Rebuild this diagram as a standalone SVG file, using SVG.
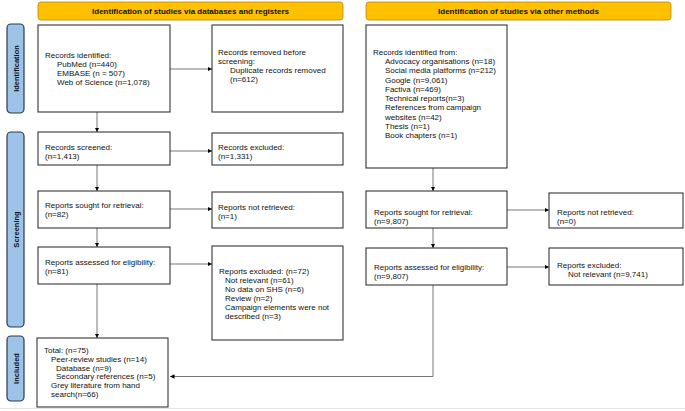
<svg xmlns="http://www.w3.org/2000/svg" width="685" height="411" viewBox="0 0 685 411">
<defs>
<marker id="ah" viewBox="0 0 10 10" refX="10" refY="5" markerWidth="4.5" markerHeight="4.5" orient="auto" markerUnits="userSpaceOnUse">
<path d="M0,0 L10,5 L0,10 z" fill="#000"/>
</marker>
<style>
.box{fill:#fff;stroke:#222;stroke-width:1}
.hdr{fill:#FFC000;stroke:#B8860B;stroke-width:0.8}
.side{fill:#9DC3E6;stroke:#2B3A4A;stroke-width:1.2}
.t{font-family:"Liberation Sans",Arial,sans-serif;font-size:8px;fill:#111}
.h{font-family:"Liberation Sans",Arial,sans-serif;font-size:8px;font-weight:bold;fill:#111;text-anchor:middle}
.s{font-family:"Liberation Sans",Arial,sans-serif;font-size:7.5px;font-weight:bold;fill:#111;text-anchor:middle}
.c{fill:none;stroke:#777;stroke-width:1}
</style>
</defs>
<rect width="685" height="411" fill="#fff"/>
<line x1="0" y1="408.5" x2="685" y2="408.5" stroke="#e6e6e6" stroke-width="1"/>

<g id="hdr-left"><rect class="hdr" x="38" y="2" width="305" height="18" rx="3"/><text class="h" x="190.5" y="14">Identification of studies via databases and registers</text></g>
<g id="hdr-right"><rect class="hdr" x="366" y="2" width="305" height="18" rx="3"/><text class="h" x="518.5" y="14">Identification of studies via other methods</text></g>

<g id="side-identification"><rect class="side" x="7" y="24" width="17" height="89" rx="4"/><text class="s" transform="translate(18.5,68.5) rotate(-90)">Identification</text></g>
<g id="side-screening"><rect class="side" x="7" y="132" width="17" height="195" rx="4"/><text class="s" transform="translate(18.5,229.5) rotate(-90)">Screening</text></g>
<g id="side-included"><rect class="side" x="7" y="336" width="17" height="65" rx="4"/><text class="s" transform="translate(18.5,368.5) rotate(-90)">Included</text></g>

<g id="connectors">
<line class="c" x1="170" y1="69" x2="212" y2="69" marker-end="url(#ah)"/>
<line class="c" x1="97" y1="112" x2="97" y2="132" marker-end="url(#ah)"/>
<line class="c" x1="170" y1="151" x2="212" y2="151" marker-end="url(#ah)"/>
<line class="c" x1="97" y1="165" x2="97" y2="191" marker-end="url(#ah)"/>
<line class="c" x1="170" y1="209" x2="212" y2="209" marker-end="url(#ah)"/>
<line class="c" x1="97" y1="228" x2="97" y2="247" marker-end="url(#ah)"/>
<line class="c" x1="170" y1="264" x2="212" y2="264" marker-end="url(#ah)"/>
<line class="c" x1="97" y1="284" x2="97" y2="338" marker-end="url(#ah)"/>
<line class="c" x1="433" y1="168" x2="433" y2="191" marker-end="url(#ah)"/>
<line class="c" x1="507" y1="210" x2="549" y2="210" marker-end="url(#ah)"/>
<line class="c" x1="433" y1="228" x2="433" y2="248" marker-end="url(#ah)"/>
<line class="c" x1="507" y1="267" x2="549" y2="267" marker-end="url(#ah)"/>
<polyline class="c" points="433,285 433,376.5 170,376.5" stroke="#999" stroke-width="1.3" marker-end="url(#ah)"/>
</g>

<g id="records-identified"><rect class="box" x="38" y="25" width="132" height="87"/>
<text class="t" x="45" y="58">Records identified:</text>
<text class="t" x="57" y="67">PubMed (n=440)</text>
<text class="t" x="57" y="76">EMBASE (n = 507)</text>
<text class="t" x="57" y="85">Web of Science (n=1,078)</text></g>

<g id="records-removed"><rect class="box" x="212" y="25" width="131" height="87"/>
<text class="t" x="218" y="55">Records removed before</text>
<text class="t" x="218" y="64">screening:</text>
<text class="t" x="230" y="73">Duplicate records removed</text>
<text class="t" x="230" y="82">(n=612)</text></g>

<g id="records-screened"><rect class="box" x="38" y="132" width="132" height="33"/>
<text class="t" x="45" y="150">Records screened:</text>
<text class="t" x="45" y="159">(n=1,413)</text></g>

<g id="records-excluded"><rect class="box" x="212" y="133" width="131" height="32"/>
<text class="t" x="218" y="150">Records excluded:</text>
<text class="t" x="218" y="159">(n=1,331)</text></g>

<g id="reports-sought"><rect class="box" x="38" y="191" width="132" height="37"/>
<text class="t" x="45" y="208">Reports sought for retrieval:</text>
<text class="t" x="45" y="217">(n=82)</text></g>

<g id="reports-not-retrieved"><rect class="box" x="212" y="192" width="131" height="36"/>
<text class="t" x="218" y="210">Reports not retrieved:</text>
<text class="t" x="218" y="219">(n=1)</text></g>

<g id="reports-assessed"><rect class="box" x="38" y="247" width="132" height="37"/>
<text class="t" x="45" y="265">Reports assessed for eligibility:</text>
<text class="t" x="45" y="274">(n=81)</text></g>

<g id="reports-excluded"><rect class="box" x="212" y="246" width="131" height="94"/>
<text class="t" x="219" y="274">Reports excluded: (n=72)</text>
<text class="t" x="225" y="283">Not relevant (n=61)</text>
<text class="t" x="225" y="292">No data on SHS (n=6)</text>
<text class="t" x="225" y="301">Review (n=2)</text>
<text class="t" x="225" y="310">Campaign elements were not</text>
<text class="t" x="225" y="319">described (n=3)</text></g>

<g id="included-total"><rect class="box" x="37" y="338" width="131" height="69"/>
<text class="t" x="44" y="353">Total: (n=75)</text>
<text class="t" x="51" y="362">Peer-review studies (n=14)</text>
<text class="t" x="56" y="370.5">Database (n=9)</text>
<text class="t" x="56" y="379">Secondary references (n=5)</text>
<text class="t" x="51" y="388">Grey literature from hand</text>
<text class="t" x="51" y="397">search(n=66)</text></g>

<g id="other-records"><rect class="box" x="366" y="25" width="141" height="143"/>
<text class="t" x="373" y="55">Records identified from:</text>
<text class="t" x="385" y="64">Advocacy organisations (n=18)</text>
<text class="t" x="385" y="73">Social media platforms (n=212)</text>
<text class="t" x="385" y="82.5">Google (n=9,061)</text>
<text class="t" x="385" y="92">Factiva (n=469)</text>
<text class="t" x="385" y="101">Technical reports(n=3)</text>
<text class="t" x="385" y="110">References from campaign</text>
<text class="t" x="385" y="119.5">websites (n=42)</text>
<text class="t" x="385" y="129">Thesis (n=1)</text>
<text class="t" x="385" y="138">Book chapters (n=1)</text></g>

<g id="other-sought"><rect class="box" x="366" y="191" width="141" height="37"/>
<text class="t" x="374" y="215">Reports sought for retrieval:</text>
<text class="t" x="374" y="224">(n=9,807)</text></g>

<g id="other-not-retrieved"><rect class="box" x="549" y="193" width="134" height="35"/>
<text class="t" x="557" y="215">Reports not retrieved:</text>
<text class="t" x="557" y="224">(n=0)</text></g>

<g id="other-assessed"><rect class="box" x="366" y="248" width="141" height="37"/>
<text class="t" x="374" y="270">Reports assessed for eligibility:</text>
<text class="t" x="374" y="279">(n=9,807)</text></g>

<g id="other-excluded"><rect class="box" x="549" y="248" width="134" height="37"/>
<text class="t" x="557" y="268">Reports excluded:</text>
<text class="t" x="568" y="277">Not relevant (n=9,741)</text></g>
</svg>
